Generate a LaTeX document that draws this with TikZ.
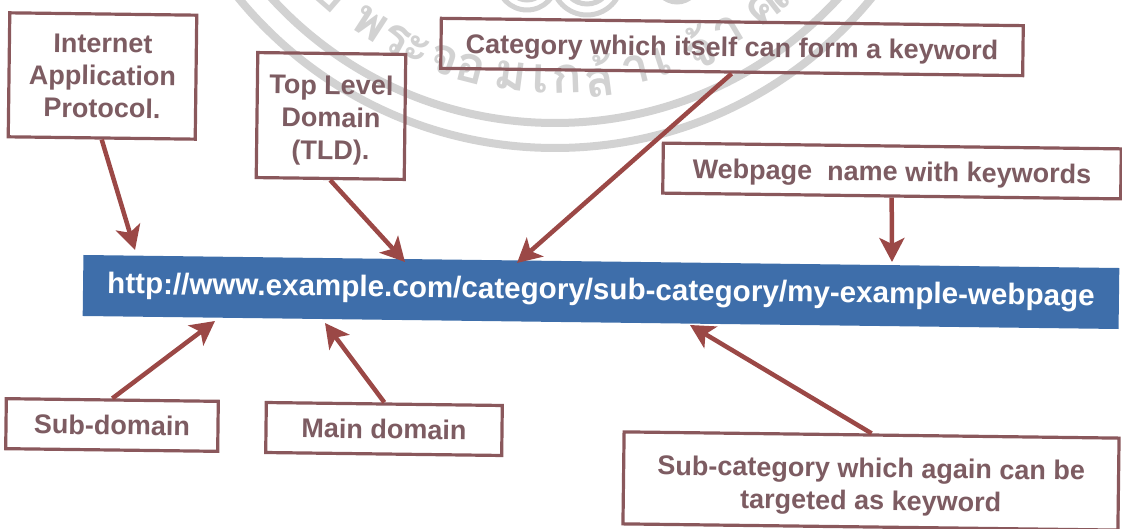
\documentclass[tikz,border=0pt]{standalone}
\usepackage{fontspec}
\setmainfont{Liberation Sans}
\newfontfamily\thaifont[Script=Thai]{Loma}
\usepackage{tikz}
\usetikzlibrary{arrows.meta}
\definecolor{boxline}{RGB}{138, 88, 92}
\definecolor{boxtext}{RGB}{125, 92, 98}
\definecolor{pointer}{RGB}{155, 72, 70}
\definecolor{urlblue}{RGB}{62, 110, 170}
\definecolor{stampgrey}{RGB}{210, 210, 210}
\tikzset{
  label box/.style={draw=boxline, line width=3.2pt, text=boxtext, align=center, inner sep=0pt, rotate=-0.72,
    font=\fontsize{27}{32.5}\selectfont\bfseries},
  nudge/.style={text height=#1, text depth=0pt},
  pointer line/.style={draw=pointer, line width=4.5pt, -{Stealth[length=24pt, width=25pt, inset=6pt]}},
  stamp letter/.style={text=stampgrey, inner sep=0pt, font=\fontsize{50}{50}\selectfont\thaifont\bfseries},
}

\begin{document}
\begin{tikzpicture}[x=1pt, y=-1pt]
\newcommand{\ringx}{555}
\newcommand{\ringy}{-261}
\useasboundingbox (0, 0) rectangle (1122, 529);
\begin{scope}
\clip (0, 0) rectangle (1122, 529);
\draw[stampgrey, line width=8pt] (\ringx, \ringy) circle (409);
\draw[stampgrey, line width=8pt] (\ringx, \ringy) circle (384);
\foreach \x / \r in {527 / 30, 527 / 20, 587 / 35, 587 / 24, 677 / 22} {
  \draw[stampgrey, line width=5pt] (\x, -20) circle (\r);
}
\foreach \ch / \ang in {ย/-41, พ/-33, ร/-28, ะ/-24, จ/-19, อ/-14.4, ม/-7.5, เ/-2.5, ก/2, ล้/7.5, า/13.8, เ/18.4, จ้/25, า/30.7, ค/37.7, ณ/43} {
  \node[stamp letter, rotate=\ang] at ([shift={(\ringx, \ringy)}] 90-\ang:340) {\ch};
}
\end{scope}

\node[fill=urlblue, text=white, inner sep=0pt, minimum width=1036pt, minimum height=61pt, rotate=-0.72,
  font=\fontsize{29.6}{32}\selectfont\bfseries] (url) at (601, 292) {http://www.example.com/category/sub-category/my-example-webpage};

\node[label box, minimum width=187pt, minimum height=124pt] (protocol) at (102.5, 76) {Internet\\Application\\Protocol.};
\node[label box, nudge=87pt, minimum width=148pt, minimum height=125pt] (tld) at (331, 116) {Top Level\\Domain\\(TLD).};
\node[label box, nudge=19pt, minimum width=582pt, minimum height=50pt] (category) at (732, 47) {Category which itself can form a keyword};
\node[label box, nudge=20pt, minimum width=458pt, minimum height=50pt] (webpage) at (892, 171) {Webpage\ \ name with keywords};
\node[label box, minimum width=212pt, minimum height=50pt] (subdomain) at (112, 425) {Sub-domain};
\node[label box, minimum width=236pt, minimum height=50pt] (maindomain) at (384, 429) {Main domain};
\node[label box, nudge=58pt, minimum width=495pt, minimum height=92pt] (subcategory) at (871, 481) {Sub-category which again can be\\targeted as keyword};

\coordinate (protocoltip) at (135, 250);
\coordinate (tldtip) at (405, 262);
\coordinate (categorytip) at (517, 263);
\coordinate (webpagetip) at (892, 262);
\coordinate (subdomaintip) at (215, 321);
\coordinate (maindomaintip) at (325, 323);
\coordinate (subcategorytip) at (690, 325);

\draw[pointer line] (protocol.south) -- (protocoltip);
\draw[pointer line] (tld.south) -- (tldtip);
\draw[pointer line] (category.south) -- (categorytip);
\draw[pointer line] (webpage.south) -- (webpagetip);
\draw[pointer line] (subdomain.north) -- (subdomaintip);
\draw[pointer line] (maindomain.north) -- (maindomaintip);
\draw[pointer line] (subcategory.north) -- (subcategorytip);
\end{tikzpicture}
\end{document}
